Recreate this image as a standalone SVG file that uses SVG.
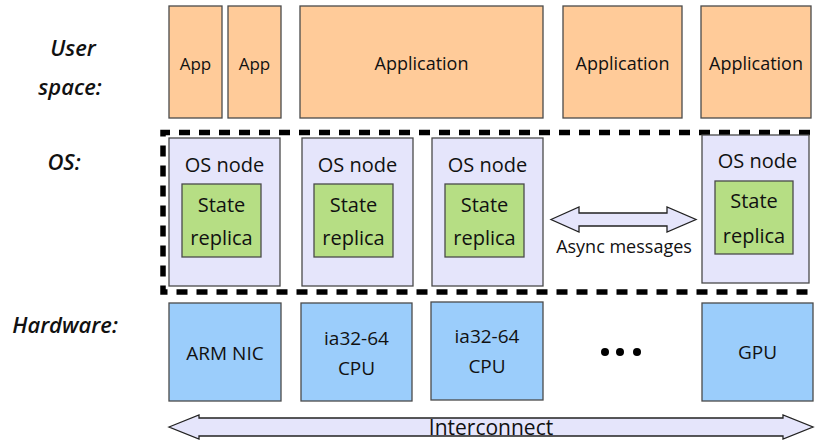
<svg xmlns="http://www.w3.org/2000/svg" width="817" height="441" viewBox="0 0 817 441">
<style>
text{font-family:"Open Sans","Liberation Sans",sans-serif;fill:#111;text-anchor:middle}
.lbl{font-style:italic;font-weight:600;font-size:22px}
.app{fill:#FFCB99;stroke:#4a4a4a;stroke-width:1.3}
.os{fill:#E5E5FB;stroke:#4a4a4a;stroke-width:1.3}
.st{fill:#B6DE84;stroke:#4a4a4a;stroke-width:1.3}
.hw{fill:#9BCDFB;stroke:#4a4a4a;stroke-width:1.3}
.arr{fill:#E5E5FB;stroke:#222;stroke-width:1.3}
.t17{font-size:17px}.t18{font-size:18px}.t19{font-size:19px}.t20{font-size:20px}
</style>
<rect width="817" height="441" fill="#fff"/>
<g id="labels">
<text class="lbl" x="73" y="56">User</text>
<text class="lbl" x="70" y="95">space:</text>
<text class="lbl" x="64" y="170">OS:</text>
<text class="lbl" x="65" y="333">Hardware:</text>
</g>
<g id="app1"><rect class="app" x="169" y="6" width="53" height="112"/><text class="t17" x="195.5" y="70">App</text></g>
<g id="app2"><rect class="app" x="228" y="6" width="53" height="112"/><text class="t17" x="254.5" y="70">App</text></g>
<g id="app3"><rect class="app" x="300" y="6" width="243" height="112"/><text class="t18" x="421.5" y="70">Application</text></g>
<g id="app4"><rect class="app" x="563" y="6" width="119" height="112"/><text class="t18" x="622.5" y="70">Application</text></g>
<g id="app5"><rect class="app" x="701" y="6" width="110" height="112"/><text class="t18" x="756" y="70">Application</text></g>
<g id="os-boundary"><path d="M810,132.5 H163 V292 H812" fill="none" stroke="#000" stroke-width="5.5" stroke-dasharray="11 9"/></g>
<g id="os1"><rect class="os" x="169" y="138" width="111" height="148"/><text class="t20" x="224.5" y="171.5">OS node</text>
<rect class="st" x="182" y="184" width="79" height="73"/><text class="t20" x="221.5" y="211.5">State</text><text class="t20" x="221.5" y="245">replica</text></g>
<g id="os2"><rect class="os" x="302" y="138" width="111" height="148"/><text class="t20" x="357.5" y="171.5">OS node</text>
<rect class="st" x="314" y="184" width="79" height="73"/><text class="t20" x="353.5" y="211.5">State</text><text class="t20" x="353.5" y="245">replica</text></g>
<g id="os3"><rect class="os" x="432" y="138" width="111" height="148"/><text class="t20" x="487.5" y="171.5">OS node</text>
<rect class="st" x="445" y="184" width="79" height="73"/><text class="t20" x="484.5" y="211.5">State</text><text class="t20" x="484.5" y="245">replica</text></g>
<g id="os4"><rect class="os" x="702" y="135" width="107" height="148"/><text class="t20" x="757.5" y="168">OS node</text>
<rect class="st" x="715" y="181" width="78" height="73"/><text class="t20" x="754" y="208">State</text><text class="t20" x="754" y="243">replica</text></g>
<g id="hw1"><rect class="hw" x="169" y="303" width="112" height="98"/><text class="t19" x="225" y="360">ARM NIC</text></g>
<g id="hw2"><rect class="hw" x="301" y="303" width="111" height="98"/><text class="t19" x="356.5" y="345">ia32-64</text><text class="t19" x="356.5" y="375">CPU</text></g>
<g id="hw3"><rect class="hw" x="431" y="302" width="112" height="98"/><text class="t19" x="487" y="343">ia32-64</text><text class="t19" x="487" y="373">CPU</text></g>
<g id="hw4"><rect class="hw" x="702" y="303" width="111" height="98"/><text class="t19" x="757.5" y="359">GPU</text></g>
<g id="dots"><circle cx="605" cy="352" r="4" fill="#000"/><circle cx="620" cy="352" r="4" fill="#000"/><circle cx="637" cy="352" r="4" fill="#000"/></g>
<g id="connectors">
<path class="arr" d="M551,219.5 L579,207 V213 H667 V207 L696,219.5 L667,232 V226 H579 V232 Z"/>
<text class="t18" x="624" y="253">Async messages</text>
<path class="arr" d="M169,427 L199,415 V418 H783 V415 L813,427 L783,439 V436 H199 V439 Z"/>
<text style="font-size:21px" x="491" y="435">Interconnect</text>
</g>
</svg>
